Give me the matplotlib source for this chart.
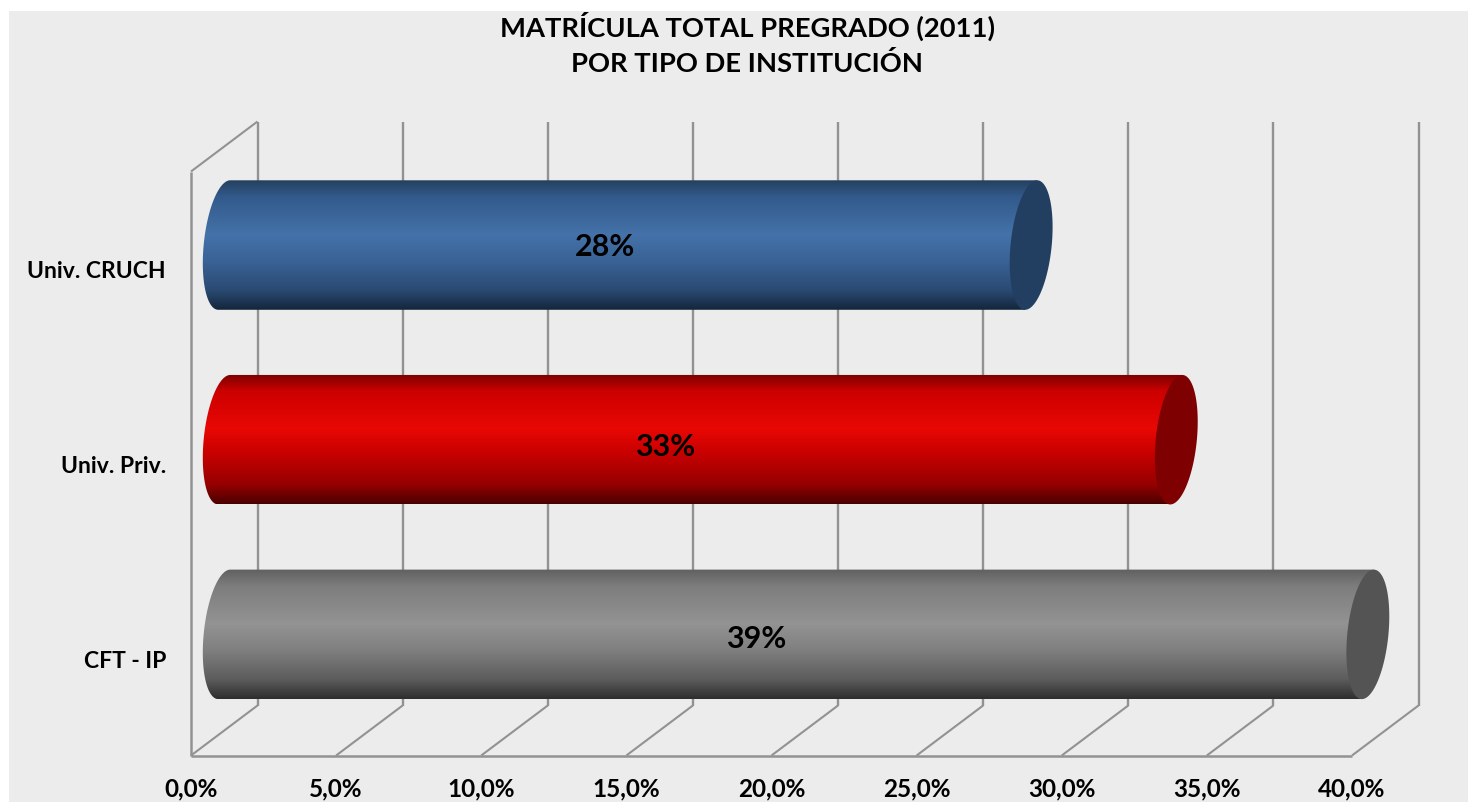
import numpy as np
import matplotlib
matplotlib.use("Agg")
import matplotlib.pyplot as plt
from matplotlib.colors import LinearSegmentedColormap
from matplotlib.patches import PathPatch, Rectangle
from matplotlib.path import Path

# datos
categorias = ["Univ. CRUCH", "Univ. Priv.", "CFT - IP"]
valores = [27.8, 32.8, 39.4]
ticks_x = [0, 5, 10, 15, 20, 25, 30, 35, 40]
etiquetas_x = ["0,0%", "5,0%", "10,0%", "15,0%", "20,0%", "25,0%", "30,0%", "35,0%", "40,0%"]
titulo = "MATRÍCULA TOTAL PREGRADO (2011)\nPOR TIPO DE INSTITUCIÓN"

# degradados de cada barra (arriba -> abajo) y color de la tapa
degradados = [
    ["#24405f", "#335a8c", "#4472a9", "#3a6397", "#2a4a72", "#14253b"],
    ["#7a0000", "#cc0000", "#e80804", "#c60000", "#960000", "#4a0000"],
    ["#606060", "#7d7d7d", "#939393", "#808080", "#5c5c5c", "#2e2e2e"],
]
tapas = ["#223f62", "#7f0000", "#545454"]
pos_etiqueta = [14.26, 16.33, 19.46]
ajuste_etiqueta = [1, 6, 4]  # px respecto al centro del cilindro

W, H = 1468, 803
FONDO = "#ececec"
LINEA = "#929292"
FUENTE = "Lato"

plt.rcParams["font.family"] = [FUENTE, "DejaVu Sans"]
plt.rcParams["font.weight"] = "bold"
plt.rcParams["lines.solid_capstyle"] = "butt"

fig = plt.figure(figsize=(W / 100, H / 100), dpi=100, facecolor="white")
fig.add_artist(Rectangle((9 / W, 0), 1 - 9 / W, 1 - 12 / H, transform=fig.transFigure,
                         facecolor=FONDO, edgecolor="none", zorder=-1))

# plano frontal del grafico: x 191-1352, y 172-756 en pixeles
ax = fig.add_axes([191 / W, 1 - 756.5 / H, (1352 - 191) / W, 584 / H])
ax.patch.set_visible(False)
px_x = 40 / (1352 - 191)
px_y = 3 / 584
dx = 66.5 * px_x    # profundidad 3D
dy = 50 * px_y

# paredes y lineas de division
for t in ticks_x:
    ax.plot([t + dx, t + dx], [-dy, 3 - dy], color=LINEA, lw=1.7, clip_on=False, zorder=1)
    ax.plot([t, t + dx], [3, 3 - dy], color=LINEA, lw=1.5, clip_on=False, zorder=1)
ax.plot([0, 0], [0, 3], color=LINEA, lw=1.8, clip_on=False, zorder=1)
ax.plot([0, dx], [0, -dy], color=LINEA, lw=1.5, clip_on=False, zorder=1)
ax.plot([0, 40], [3, 3], color=LINEA, lw=1.8, clip_on=False, zorder=1)

# cilindros
alto = 64.75 * px_y
ancho = 20.6 * px_x
incl = 6 * px_x
ang = np.linspace(0, 2 * np.pi, 121)

for i, v in enumerate(valores):
    yc = i + 0.5 - dy / 2 + 1.2 * px_y
    x0 = dx / 2
    x1 = dx / 2 + v
    # contorno del cuerpo: arco izquierdo de la elipse + lineas hasta la tapa
    t_izq = np.linspace(np.pi / 2, 3 * np.pi / 2, 60)
    xs = x0 + ancho * np.cos(t_izq) + incl * np.sin(t_izq)
    ys = yc - alto * np.sin(t_izq)
    pts = list(zip(xs, ys)) + [(x1 - incl, yc + alto), (x1 + incl, yc - alto)]
    pts.append(pts[0])
    cuerpo = PathPatch(Path(pts), transform=ax.transData, facecolor="none", edgecolor="none")
    ax.add_patch(cuerpo)
    cmap = LinearSegmentedColormap.from_list("c%d" % i, list(zip([0, 0.13, 0.42, 0.62, 0.85, 1], degradados[i])))
    im = ax.imshow(np.linspace(0, 1, 256).reshape(-1, 1), cmap=cmap, aspect="auto",
                   extent=(x0 - 2, x1 + 2, yc + alto, yc - alto), zorder=2)
    im.set_clip_box(fig.bbox)
    im.set_clip_path(cuerpo)
    # tapa derecha
    xt = x1 + ancho * np.cos(ang) + incl * np.sin(ang)
    yt = yc - alto * np.sin(ang)
    ax.fill(xt, yt, color=tapas[i], lw=0, clip_on=False, zorder=3)
    ax.text(pos_etiqueta[i], yc + ajuste_etiqueta[i] * px_y, "%.0f%%" % v, fontsize=22, fontweight="bold",
            color="black", ha="center", va="center", zorder=4)

ax.set_xlim(0, 40)
ax.set_ylim(3, 0)
ax.set_xticks(ticks_x)
ax.set_xticklabels(etiquetas_x, fontsize=17.5)
ax.set_yticks([0.5, 1.5, 2.5])
ax.set_yticklabels(categorias, fontsize=16.5)
ax.tick_params(axis="x", length=0, pad=15)
ax.tick_params(axis="y", length=0, pad=18)
for s in ax.spines.values():
    s.set_visible(False)

fig.text(747 / W, 1 - 44 / H, titulo, fontsize=19.7, fontweight="bold", ha="center", va="center",
         linespacing=1.5)

fig.savefig("out.png", dpi=100)
